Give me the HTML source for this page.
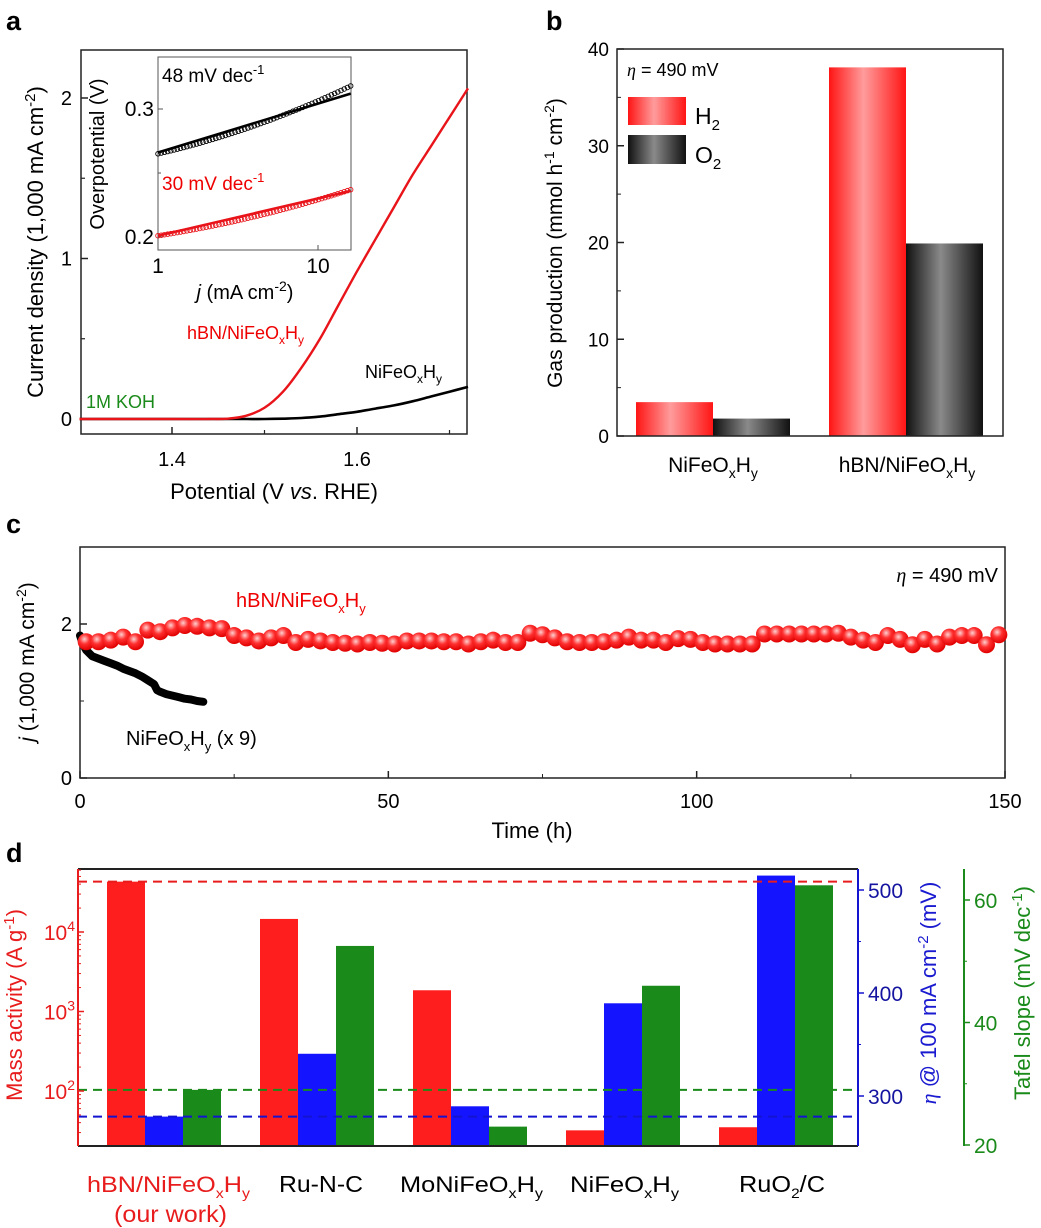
<!DOCTYPE html>
<html><head><meta charset="utf-8"><style>
html,body{margin:0;padding:0;background:#fff}
svg{display:block;font-family:"Liberation Sans",Arial,sans-serif}
</style></head><body>
<svg id="fig" width="1041" height="1228" viewBox="0 0 1041 1228" xmlns="http://www.w3.org/2000/svg">
<defs>
<linearGradient id="gRed" x1="0" x2="1" y1="0" y2="0"><stop offset="0" stop-color="#ff1414"/><stop offset="0.45" stop-color="#ff9c9c"/><stop offset="1" stop-color="#ff1414"/></linearGradient>
<linearGradient id="gBlk" x1="0" x2="1" y1="0" y2="0"><stop offset="0" stop-color="#111"/><stop offset="0.45" stop-color="#8a8a8a"/><stop offset="1" stop-color="#111"/></linearGradient>
<radialGradient id="gBall" cx="0.4" cy="0.35" r="0.65"><stop offset="0" stop-color="#ffd0d0"/><stop offset="0.45" stop-color="#ff3030"/><stop offset="1" stop-color="#e00000"/></radialGradient>
</defs>

<text x="6" y="30" font-size="27" font-weight="bold">a</text>
<text x="546" y="30" font-size="27" font-weight="bold">b</text>
<text x="6" y="533" font-size="27" font-weight="bold">c</text>
<text x="6" y="862" font-size="27" font-weight="bold">d</text>

<g id="pa">
<rect x="81" y="50" width="386" height="384" fill="none" stroke="#222" stroke-width="1.5"/>
<text transform="translate(43,242) rotate(-90)" text-anchor="middle" font-size="22">Current density (1,000 mA cm<tspan dy="-8" font-size="15">-2</tspan><tspan dy="8">)</tspan></text>
<text x="274" y="499" text-anchor="middle" font-size="22">Potential (V <tspan font-style="italic">vs</tspan>. RHE)</text>
<text x="86" y="408" font-size="18" fill="#1a8a1a">1M KOH</text>
<text x="187" y="339" font-size="18" fill="#e00">hBN/NiFeO<tspan dy="5" font-size="12">x</tspan><tspan dy="-5">H</tspan><tspan dy="5" font-size="12">y</tspan></text>
<text x="365" y="378" font-size="18">NiFeO<tspan dy="5" font-size="12">x</tspan><tspan dy="-5">H</tspan><tspan dy="5" font-size="12">y</tspan></text>
<g id="paAxes"></g>
<g id="paCurves"></g>
<rect x="158" y="57" width="193" height="193" fill="#fff" stroke="#555" stroke-width="1"/>
<text transform="translate(104,154) rotate(-90)" text-anchor="middle" font-size="20">Overpotential (V)</text>
<text x="245" y="299" text-anchor="middle" font-size="20"><tspan font-style="italic">j</tspan> (mA cm<tspan dy="-8" font-size="14">-2</tspan><tspan dy="8">)</tspan></text>
<text x="162" y="82" font-size="19">48 mV dec<tspan dy="-8" font-size="13">-1</tspan></text>
<text x="162" y="190" font-size="19" fill="#e00">30 mV dec<tspan dy="-8" font-size="13">-1</tspan></text>
<g id="insetAxes"></g>
<g id="insetCurves"></g>
</g>

<g id="pb">
<text transform="translate(562,243) rotate(-90)" text-anchor="middle" font-size="21">Gas production (mmol h<tspan dy="-8" font-size="14">-1</tspan><tspan dy="8"> cm</tspan><tspan dy="-8" font-size="14">-2</tspan><tspan dy="8">)</tspan></text>
<text x="627" y="76" font-size="18"><tspan font-style="italic" font-family="Liberation Serif">η</tspan> = 490 mV</text>
<rect x="628" y="97" width="58" height="28" fill="url(#gRed)"/>
<text x="695" y="124" font-size="23">H<tspan dy="6" font-size="15">2</tspan></text>
<rect x="628" y="135" width="58" height="29" fill="url(#gBlk)"/>
<text x="695" y="163" font-size="23">O<tspan dy="6" font-size="15">2</tspan></text>
<g id="pbBars"></g>
<rect x="617" y="49" width="386" height="387" fill="none" stroke="#222" stroke-width="1.5"/>
<g id="pbAxes"></g>
</g>

<g id="pc">
<text transform="translate(34,662) rotate(-90)" text-anchor="middle" font-size="21"><tspan font-style="italic">j</tspan> (1,000 mA cm<tspan dy="-8" font-size="14">-2</tspan><tspan dy="8">)</tspan></text>
<text x="532" y="838" text-anchor="middle" font-size="22">Time (h)</text>
<text x="998" y="582" text-anchor="end" font-size="20"><tspan font-style="italic" font-family="Liberation Serif">η</tspan> = 490 mV</text>
<text x="236" y="607" font-size="20" fill="#e00">hBN/NiFeO<tspan dy="6" font-size="13">x</tspan><tspan dy="-6">H</tspan><tspan dy="6" font-size="13">y</tspan></text>
<text x="126" y="745" font-size="20">NiFeO<tspan dy="6" font-size="13">x</tspan><tspan dy="-6">H</tspan><tspan dy="6" font-size="13">y</tspan><tspan dy="-6"> (x 9)</tspan></text>
<rect x="80" y="547" width="925" height="231" fill="none" stroke="#222" stroke-width="1.5"/>
<g id="pcAxes"></g>
<g id="pcMarks"></g>
</g>

<g id="pd">
<text transform="translate(22,1005) rotate(-90)" text-anchor="middle" font-size="22" fill="#e81c1c">Mass activity (A g<tspan dy="-8" font-size="15">-1</tspan><tspan dy="8">)</tspan></text>
<text transform="translate(936,993) rotate(-90)" text-anchor="middle" font-size="22" fill="#1a1ad0"><tspan font-style="italic" font-family="Liberation Serif">η</tspan> @ 100 mA cm<tspan dy="-8" font-size="15">-2</tspan><tspan dy="8"> (mV)</tspan></text>
<text transform="translate(1030,993) rotate(-90)" text-anchor="middle" font-size="22" fill="#1a8a1a">Tafel slope (mV dec<tspan dy="-8" font-size="15">-1</tspan><tspan dy="8">)</tspan></text>
<g id="pdBars"></g>
<g id="pdAxes"></g>
<text x="87" y="1192" font-size="22" fill="#e81c1c" textLength="163" lengthAdjust="spacingAndGlyphs">hBN/NiFeO<tspan dy="6" font-size="14">x</tspan><tspan dy="-6">H</tspan><tspan dy="6" font-size="14">y</tspan></text>
<text x="114" y="1222" font-size="23" fill="#e81c1c" textLength="113" lengthAdjust="spacingAndGlyphs">(our work)</text>
<text x="279" y="1192" font-size="23" textLength="84" lengthAdjust="spacingAndGlyphs">Ru-N-C</text>
<text x="400" y="1192" font-size="22" textLength="143" lengthAdjust="spacingAndGlyphs">MoNiFeO<tspan dy="6" font-size="14">x</tspan><tspan dy="-6">H</tspan><tspan dy="6" font-size="14">y</tspan></text>
<text x="570" y="1192" font-size="22" textLength="109" lengthAdjust="spacingAndGlyphs">NiFeO<tspan dy="6" font-size="14">x</tspan><tspan dy="-6">H</tspan><tspan dy="6" font-size="14">y</tspan></text>
<text x="739" y="1192" font-size="23" textLength="86" lengthAdjust="spacingAndGlyphs">RuO<tspan dy="6" font-size="14">2</tspan><tspan dy="-6">/C</tspan></text>
</g>
</svg>
<script>
const aPotential = [1.30,1.40,1.44,1.46,1.48,1.50,1.52,1.54,1.56,1.58,1.60,1.62,1.64,1.66,1.68,1.70,1.72];
const aRedCurrent = [0,0,0,0.002,0.02,0.07,0.17,0.32,0.50,0.71,0.92,1.12,1.32,1.52,1.70,1.88,2.06];
const aBlackCurrent = [0,0,0,0,0,0,0.002,0.006,0.015,0.03,0.045,0.065,0.085,0.11,0.14,0.17,0.20];
const aYTicks = [0,1,2];
const aXTicks = [1.4,1.6];
const insetJ = [1,16];
const insetBlackFit = [0.266,0.312];
const insetBlackPts = [0.265,0.318];
const insetRedFit = [0.201,0.236];
const insetRedPts = [0.201,0.237];
const insetYTicks = [0.2,0.3];
const insetXTicks = [1,10];
const bCategories = ["NiFeOxHy","hBN/NiFeOxHy"];
const bH2 = [3.5,38.1];
const bO2 = [1.8,19.9];
const bYTicks = [0,10,20,30,40];
const cRedTime = [1,3,5,7,9,11,13,15,17,19,21,23,25,27,29,31,33,35,37,39,41,43,45,47,49,51,53,55,57,59,61,63,65,67,69,71,73,75,77,79,81,83,85,87,89,91,93,95,97,99,101,103,105,107,109,111,113,115,117,119,121,123,125,127,129,131,133,135,137,139,141,143,145,147,149];
const cRedJ = [1.77,1.77,1.79,1.83,1.77,1.92,1.9,1.95,1.98,1.97,1.95,1.94,1.85,1.82,1.78,1.82,1.85,1.76,1.8,1.78,1.76,1.75,1.74,1.76,1.75,1.74,1.78,1.78,1.78,1.77,1.77,1.74,1.77,1.79,1.76,1.76,1.88,1.86,1.82,1.77,1.76,1.76,1.77,1.79,1.83,1.79,1.79,1.76,1.81,1.8,1.76,1.74,1.74,1.74,1.74,1.87,1.87,1.87,1.87,1.87,1.87,1.88,1.83,1.79,1.76,1.85,1.8,1.73,1.8,1.74,1.83,1.85,1.85,1.73,1.86];
const cBlackTime = [0,0.3,0.6,1,1.5,2,3,4,5,6,7,8,9,10,11,12,12.5,13,14,15,16,17,18,19,20];
const cBlackJ = [1.85,1.78,1.72,1.66,1.62,1.58,1.55,1.52,1.49,1.46,1.42,1.39,1.36,1.32,1.27,1.22,1.14,1.12,1.09,1.07,1.05,1.03,1.02,1.0,0.99];
const cXTicks = [0,50,100,150];
const cYTicks = [0,2];
const dCategories = ["hBN/NiFeOxHy","Ru-N-C","MoNiFeOxHy","NiFeOxHy","RuO2/C"];
const dMass = [43000,14600,1850,32,35];
const dEta = [280,341,290,390,514];
const dTafel = [29,52.5,23,46,62.4];
const dMassRef = 43000;
const dEtaRef = 280;
const dTafelRef = 29;
const dMassTicks = [100,1000,10000];
const dEtaTicks = [300,400,500];
const dTafelTicks = [20,40,60];

const NS="http://www.w3.org/2000/svg";
function mk(parent,tag,attrs){const e=document.createElementNS(NS,tag);for(const k in attrs)e.setAttribute(k,attrs[k]);parent.appendChild(e);return e;}
function lin(d0,d1,r0,r1){return v=>r0+(v-d0)/(d1-d0)*(r1-r0);}
function logs(d0,d1,r0,r1){return v=>r0+(Math.log10(v)-Math.log10(d0))/(Math.log10(d1)-Math.log10(d0))*(r1-r0);}
function pathOf(xs,ys,fx,fy){return xs.map((x,i)=>(i?'L':'M')+fx(x).toFixed(1)+','+fy(ys[i]).toFixed(1)).join('');}
function smoothPath(xs,ys,fx,fy){
  const p=xs.map((x,i)=>[fx(x),fy(ys[i])]);
  let d='M'+p[0][0].toFixed(1)+','+p[0][1].toFixed(1);
  for(let i=0;i<p.length-1;i++){
    const p0=p[Math.max(0,i-1)],p1=p[i],p2=p[i+1],p3=p[Math.min(p.length-1,i+2)];
    const c1=[p1[0]+(p2[0]-p0[0])/6,p1[1]+(p2[1]-p0[1])/6];
    const c2=[p2[0]-(p3[0]-p1[0])/6,p2[1]-(p3[1]-p1[1])/6];
    d+='C'+c1[0].toFixed(1)+','+c1[1].toFixed(1)+' '+c2[0].toFixed(1)+','+c2[1].toFixed(1)+' '+p2[0].toFixed(1)+','+p2[1].toFixed(1);
  }
  return d;
}

// Panel a
const ax=lin(1.4,1.6,172,357), ay=lin(0,1,419,258.5);
const paAxes=document.getElementById('paAxes');
aYTicks.forEach(v=>{
  const t=mk(paAxes,'line',{x1:81,x2:88,y1:ay(v),y2:ay(v),stroke:'#222','stroke-width':1.5});
  
  
  const l=mk(paAxes,'text',{x:72,y:ay(v)+7,'text-anchor':'end','font-size':20});
  l.textContent=v;
  
  
});
[0.5,1.5].forEach(v=>{const t=mk(paAxes,'line',{x1:81,x2:85,y1:ay(v),y2:ay(v),stroke:'#222','stroke-width':1.2});
  
  });
aXTicks.forEach(v=>{
  const t=mk(paAxes,'line',{x1:ax(v),x2:ax(v),y1:434,y2:427,stroke:'#222','stroke-width':1.5});
  
  
  const l=mk(paAxes,'text',{x:ax(v),y:466,'text-anchor':'middle','font-size':20});
  l.textContent=v.toFixed(1);
  
  
});
[1.5,1.7].forEach(v=>{const t=mk(paAxes,'line',{x1:ax(v),x2:ax(v),y1:434,y2:430,stroke:'#222','stroke-width':1.2});
  
  });
const paC=document.getElementById('paCurves');
const blk=mk(paC,'path',{d:smoothPath(aPotential,aBlackCurrent,ax,ay),fill:'none',stroke:'#000','stroke-width':2.6});


const red=mk(paC,'path',{d:smoothPath(aPotential,aRedCurrent,ax,ay),fill:'none',stroke:'#e8141a','stroke-width':2.4});



const ix=logs(1,10,158,318), iy=lin(0.2,0.3,237,109);
const iA=document.getElementById('insetAxes');
insetYTicks.forEach(v=>{
  const t=mk(iA,'line',{x1:158,x2:163,y1:iy(v),y2:iy(v),stroke:'#555'});
  
  
  const l=mk(iA,'text',{x:154,y:iy(v)+7,'text-anchor':'end','font-size':21});
  l.textContent=v.toFixed(1);
  
  
});
{const t=mk(iA,'line',{x1:158,x2:161,y1:iy(0.25),y2:iy(0.25),stroke:'#555'});
 
 }
insetXTicks.forEach(v=>{
  const t=mk(iA,'line',{x1:ix(v),x2:ix(v),y1:250,y2:245,stroke:'#555'});
  
  
  const l=mk(iA,'text',{x:ix(v),y:273,'text-anchor':'middle','font-size':21});
  l.textContent=v;
  
  
});
const iC=document.getElementById('insetCurves');
function insetSeries(fit,pts,col,nm){
  const d0=Math.log10(insetJ[0]),d1=Math.log10(insetJ[1]);
  for(let k=0;k<=60;k++){
    const f=k/60, lj=d0+f*(d1-d0), j=Math.pow(10,lj);
    const v=pts[0]+(pts[1]-pts[0])*(f*f*0.35+f*0.65);
    const c=mk(iC,'circle',{cx:ix(j),cy:iy(v),r:2.3,fill:'none',stroke:col,'stroke-width':0.9});
    
    
  }
  const l=mk(iC,'line',{x1:ix(insetJ[0]),y1:iy(fit[0]),x2:ix(insetJ[1]),y2:iy(fit[1]),stroke:col,'stroke-width':2.6});
  
  
}
insetSeries(insetBlackFit,insetBlackPts,'#000','inset-nifeo');
insetSeries(insetRedFit,insetRedPts,'#e8141a','inset-hbn');

// Panel b
const by=lin(0,40,436,49);
const bBandStart=[636,829], bw=77;
const pbB=document.getElementById('pbBars');
bCategories.forEach((c,i)=>{
  const r1=mk(pbB,'rect',{x:bBandStart[i],y:by(bH2[i]),width:bw,height:436-by(bH2[i]),fill:'url(#gRed)'});
  
  
  const r2=mk(pbB,'rect',{x:bBandStart[i]+bw,y:by(bO2[i]),width:bw,height:436-by(bO2[i]),fill:'url(#gBlk)'});
  
  
});
const pbA=document.getElementById('pbAxes');
bYTicks.forEach(v=>{
  const t=mk(pbA,'line',{x1:617,x2:624,y1:by(v),y2:by(v),stroke:'#222','stroke-width':1.5});
  
  
  const l=mk(pbA,'text',{x:609,y:by(v)+7,'text-anchor':'end','font-size':19});
  l.textContent=v;
  
  
});
[5,15,25,35].forEach(v=>{const t=mk(pbA,'line',{x1:617,x2:621,y1:by(v),y2:by(v),stroke:'#222'});
  
  });
[[713,'NiFeO','x','H','y'],[907,'hBN/NiFeO','x','H','y']].forEach((c,i)=>{
  const l=mk(pbA,'text',{x:c[0],y:472,'text-anchor':'middle','font-size':21});
  l.innerHTML=c[1]+'<tspan dy="6" font-size="14">'+c[2]+'</tspan><tspan dy="-6">'+c[3]+'</tspan><tspan dy="6" font-size="14">'+c[4]+'</tspan>';
  
  
});

// Panel c
const cx=lin(0,150,80,1005), cy=lin(0,2,778,624);
const pcA=document.getElementById('pcAxes');
cXTicks.forEach(v=>{
  const t=mk(pcA,'line',{x1:cx(v),x2:cx(v),y1:778,y2:771,stroke:'#222','stroke-width':1.5});
  
  
  const l=mk(pcA,'text',{x:cx(v),y:808,'text-anchor':'middle','font-size':20});
  l.textContent=v;
  
  
});
[25,75,125].forEach(v=>{const t=mk(pcA,'line',{x1:cx(v),x2:cx(v),y1:778,y2:774,stroke:'#222'});
  
  });
cYTicks.forEach(v=>{
  const t=mk(pcA,'line',{x1:80,x2:87,y1:cy(v),y2:cy(v),stroke:'#222','stroke-width':1.5});
  
  
  const l=mk(pcA,'text',{x:72,y:cy(v)+7,'text-anchor':'end','font-size':20});
  l.textContent=v;
  
  
});
{const t=mk(pcA,'line',{x1:80,x2:84,y1:cy(1),y2:cy(1),stroke:'#222'});
  
  }
const pcM=document.getElementById('pcMarks');
const bl=mk(pcM,'path',{d:pathOf(cBlackTime,cBlackJ,cx,cy),fill:'none',stroke:'#000','stroke-width':8,'stroke-linecap':'round','stroke-linejoin':'round'});


cRedTime.forEach((t,i)=>{
  const c=mk(pcM,'circle',{cx:cx(t),cy:cy(cRedJ[i]),r:8.5,fill:'url(#gBall)'});
  
  
});

// Panel d
const dL=78,dR=858,dT=869,dB=1146;
const mY=logs(100,10000,1091,932);
const eY=lin(300,500,1096,890);
const tY=lin(20,60,1145,900);
const dStart=107, dBand=153, dW=38;
const pdB=document.getElementById('pdBars');
dCategories.forEach((c,i)=>{
  const x0=dStart+i*dBand;
  const r=mk(pdB,'rect',{x:x0,y:mY(dMass[i]),width:dW,height:dB-mY(dMass[i]),fill:'#ff1e1e'});
  
  
  const b=mk(pdB,'rect',{x:x0+dW,y:eY(dEta[i]),width:dW,height:dB-eY(dEta[i]),fill:'#1414ff'});
  
  
  const g=mk(pdB,'rect',{x:x0+2*dW,y:tY(dTafel[i]),width:dW,height:dB-tY(dTafel[i]),fill:'#1a8a1a'});
  
  
});
const pdA=document.getElementById('pdAxes');
const r1=mk(pdA,'line',{x1:dL,x2:dR,y1:mY(dMassRef),y2:mY(dMassRef),stroke:'#e81c1c','stroke-width':2,'stroke-dasharray':'9,6'});


const r2=mk(pdA,'line',{x1:dL,x2:dR,y1:tY(dTafelRef),y2:tY(dTafelRef),stroke:'#1a8a1a','stroke-width':2,'stroke-dasharray':'9,6'});


const r3=mk(pdA,'line',{x1:dL,x2:dR,y1:eY(dEtaRef),y2:eY(dEtaRef),stroke:'#1414d0','stroke-width':2,'stroke-dasharray':'9,6'});


[['#222',dL,dT,dR,dT,'top'],['#222',dL,dB,dR,dB,'bottom'],['#e81c1c',dL,dT,dL,dB,'left'],['#1414d0',dR,dT,dR,dB,'right'],['#1a8a1a',964,dT,964,dB,'green']].forEach(s=>{
  const l=mk(pdA,'line',{x1:s[1],y1:s[2],x2:s[3],y2:s[4],stroke:s[0],'stroke-width':2});
  
  
});
dMassTicks.forEach(v=>{
  const t=mk(pdA,'line',{x1:dL,x2:dL+6,y1:mY(v),y2:mY(v),stroke:'#e81c1c','stroke-width':1.5});
  
  
  const l=mk(pdA,'text',{x:dL-3,y:mY(v)+8,'text-anchor':'end','font-size':21,fill:'#e81c1c'});
  l.innerHTML='10<tspan dy="-9" font-size="14">'+Math.round(Math.log10(v))+'</tspan>';
  
  
});
for(let e=1;e<=4;e++){for(let m=2;m<=9;m++){const v=m*Math.pow(10,e);const y=mY(v);if(y<dT||y>dB)continue;
  const t=mk(pdA,'line',{x1:dL,x2:dL+3,y1:y,y2:y,stroke:'#e81c1c'});
  
  }}
dEtaTicks.forEach(v=>{
  const t=mk(pdA,'line',{x1:dR,x2:dR+6,y1:eY(v),y2:eY(v),stroke:'#1414d0','stroke-width':1.5});
  
  
  const l=mk(pdA,'text',{x:dR+10,y:eY(v)+8,'font-size':21,fill:'#1414a0'});
  l.textContent=v;
  
  
});
[350,450].forEach(v=>{const t=mk(pdA,'line',{x1:dR,x2:dR+3,y1:eY(v),y2:eY(v),stroke:'#1414d0'});
  
  });
dTafelTicks.forEach(v=>{
  const t=mk(pdA,'line',{x1:964,x2:970,y1:tY(v),y2:tY(v),stroke:'#1a8a1a','stroke-width':1.5});
  
  
  const l=mk(pdA,'text',{x:974,y:tY(v)+8,'font-size':21,fill:'#1a8a1a'});
  l.textContent=v;
  
  
});
[30,50].forEach(v=>{const t=mk(pdA,'line',{x1:964,x2:967,y1:tY(v),y2:tY(v),stroke:'#1a8a1a'});
  
  });
</script>
</body></html>
